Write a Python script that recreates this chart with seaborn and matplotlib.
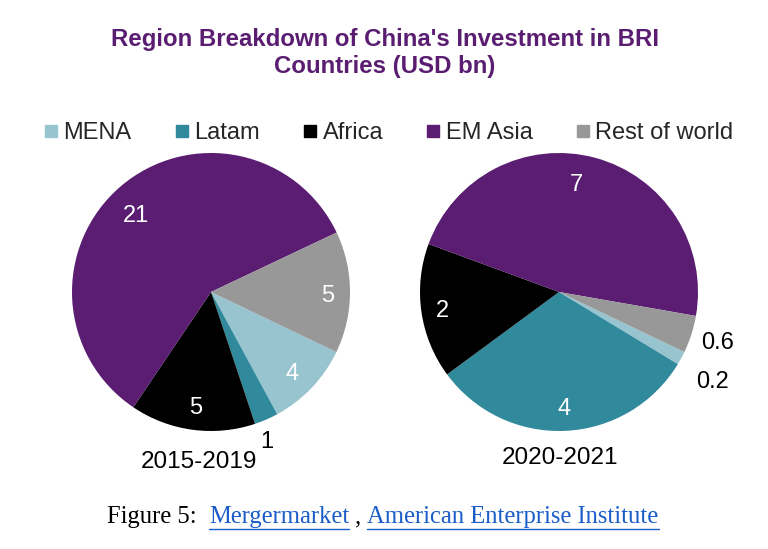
import numpy as np
import matplotlib
matplotlib.use("Agg")
import matplotlib.pyplot as plt
from matplotlib.lines import Line2D
import seaborn as sns

sns.set_theme(style="white")
plt.rcParams['font.family'] = ['Liberation Sans', 'DejaVu Sans']

# ---- data ----
regions = ["MENA", "Latam", "Africa", "EM Asia", "Rest of world"]
colors = ["#98c4cf", "#31899c", "#000000", "#5a1d72", "#989898"]
values_1519 = [3.6, 1.0, 5.25, 21.1, 5.1]
labels_1519 = ["4", "1", "5", "21", "5"]
values_2021 = [0.22, 4.37, 2.2, 6.6, 0.61]
labels_2021 = ["0.2", "4", "2", "7", "0.6"]
periods = ["2015-2019", "2020-2021"]

W, H = 768, 549
fig = plt.figure(figsize=(W / 100, H / 100), dpi=100)
fig.patch.set_facecolor("white")

R = 139

def add_pie(cx, cy, values, labels, label_dist, label_shift, label_colors):
    ax = fig.add_axes([(cx - R) / W, (H - cy - R) / H, 2 * R / W, 2 * R / H])
    wedges, _ = ax.pie(values, colors=colors, startangle=-25.6, counterclock=False,
                       radius=1.0, wedgeprops=dict(linewidth=0))
    for w, lab, d, s, c in zip(wedges, labels, label_dist, label_shift, label_colors):
        mid = np.deg2rad((w.theta1 + w.theta2) / 2 + s)
        ax.text(d * np.cos(mid), d * np.sin(mid), lab, ha="center", va="center",
                fontsize=17, color=c, clip_on=False)
    ax.set_xlim(-1, 1)
    ax.set_ylim(-1, 1)
    ax.set_aspect("equal")
    ax.axis("off")
    return ax

add_pie(211, 292, values_1519, labels_1519,
        [0.83, 1.15, 0.84, 0.77, 0.84],
        [-2, -3, 0, 4, -2],
        ["white", "black", "white", "white", "white"])
add_pie(559, 292, values_2021, labels_2021,
        [1.28, 0.84, 0.85, 0.78, 1.2],
        [-2, 0, 1, 6, 0],
        ["black", "white", "white", "white", "black"])

# period labels
fig.text(199 / W, 1 - 462 / H, periods[0], ha="center", va="center", fontsize=17.5, color="black")
fig.text(560 / W, 1 - 458 / H, periods[1], ha="center", va="center", fontsize=17.5, color="black")

# title
fig.text(385 / W, 1 - 53 / H, "Region Breakdown of China's Investment in BRI\nCountries (USD bn)",
         ha="center", va="center", fontsize=17.3, fontweight="bold", color="#5a1d72",
         linespacing=1.2)

# legend
handles = [Line2D([0], [0], marker="s", linestyle="none", markersize=8,
                  markerfacecolor=c, markeredgecolor=c) for c in colors]
fig.legend(handles, regions, loc="center", bbox_to_anchor=(389 / W, 1 - 133 / H),
           ncol=5, frameon=False, fontsize=17, handlelength=0.55, handletextpad=0.25,
           columnspacing=1.85, borderaxespad=0, borderpad=0)

# footer with link-style text
fig.canvas.draw()
renderer = fig.canvas.get_renderer()
pieces = [("Figure 5:  ", "black", False), ("Mergermarket", "#1a5dc8", True),
          (" , ", "black", False), ("American Enterprise Institute", "#1a5dc8", True)]
x = 107
y = 1 - 517 / H
for txt, col, ul in pieces:
    t = fig.text(x / W, y, txt, ha="left", va="center", fontsize=17.7,
                 family="Liberation Serif", color=col)
    bb = t.get_window_extent(renderer=renderer)
    if ul:
        uy = 1 - 529 / H
        fig.add_artist(Line2D([bb.x0 / W, bb.x1 / W], [uy, uy], color=col, linewidth=1.0,
                              transform=fig.transFigure))
    x = bb.x1

fig.savefig("out.png", dpi=100, facecolor="white")
